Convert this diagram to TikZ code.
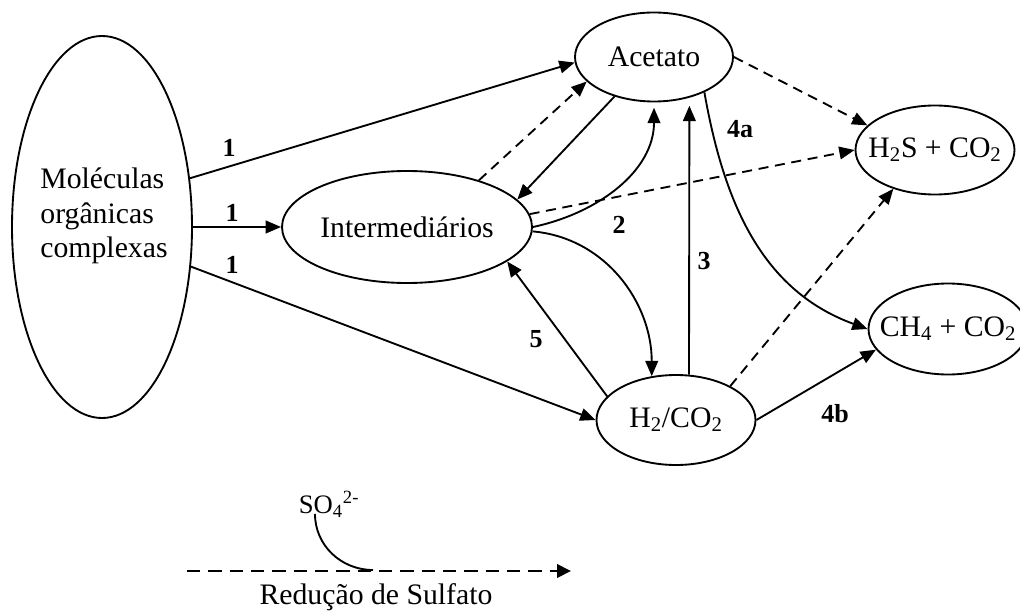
\documentclass[tikz,border=0pt]{standalone}
\usepackage{fontspec}
\setmainfont{Liberation Serif}
\usetikzlibrary{shapes.geometric,arrows.meta}
\begin{document}
\begin{tikzpicture}[x=0.75pt,y=-0.75pt,
  font=\fontsize{22.3}{26}\selectfont,
  ell/.style={draw,ellipse,line width=1.4pt,inner sep=0pt},
  conn/.style={line width=1.4pt,-{Triangle[length=11.5pt,width=9.5pt]}},
  dconn/.style={conn,dash pattern=on 7.5pt off 5pt},
  legline/.style={line width=2.1pt,dash pattern=on 10pt off 6pt,-{Triangle[length=10.5pt,width=10pt]}},
  curvel/.style={line width=1.4pt},
  num/.style={font=\fontsize{19.5}{21}\selectfont\bfseries},
]
\useasboundingbox (0,0) rectangle (1020,613);
\clip (0,0) rectangle (1020,613);

% nodes
\node[ell,minimum width=135pt,minimum height=286.5pt] (M) at (102,227) {};
\node[align=left] (Mtxt) at (104,216) {Moléculas\\orgânicas\\complexas};
\node[ell,minimum width=118.5pt,minimum height=66.75pt,label={center:Acetato}] (A) at (654,57) {};
\node[ell,minimum width=187.5pt,minimum height=84pt,label={center:Intermediários}] (I) at (407,227) {};
\node[ell,minimum width=119.25pt,minimum height=67.5pt,label={center:H\textsubscript{2}/CO\textsubscript{2}}] (H) at (676,420) {};
\node[ell,minimum width=119.25pt,minimum height=66.75pt,label={center:H\textsubscript{2}S + CO\textsubscript{2}}] (S) at (935,150) {};
\node[ell,minimum width=119.25pt,minimum height=68.25pt,label={center:CH\textsubscript{4} + CO\textsubscript{2}}] (C) at (948,329) {};

% connectors
\draw[conn] (M.29.4) -- (A.184);
\draw[conn] (M.east) -- (I.west);
\draw[conn] (M.-24) -- (H.west);
\draw[dconn] (I.33.5) -- (A.200);
\draw[conn] (A.225) -- (I.14);
\draw[conn,shorten >=4pt] (I.0) to[out=12,in=-90] (A.south);
\draw[conn] (I.-2) to[out=-5,in=90] (H.119);
\draw[conn] (H.161.8) -- (I.-19);
\draw[conn,shorten >=6pt] (H.74.9) -- (A.-49.8);
\draw[conn] (A.-35) to[out=-80,in=160] (C.west);
\draw[dconn] (A.east) -- (S.160);
\draw[dconn] (I.6) -- (S.west);
\draw[dconn] (H.32) -- (S.223);
\draw[conn] (H.east) -- (C.196.7);

% numbers
\node[num] (n1a) at (229,148) {1};
\node[num] (n1b) at (232,213) {1};
\node[num] (n1c) at (232,265) {1};
\node[num] (n2) at (619,225) {2};
\node[num] (n3) at (704,261) {3};
\node[num] (n4a) at (740,129) {4a};
\node[num] (n5) at (536,339) {5};
\node[num] (n4b) at (835,414) {4b};

% legend
\coordinate (L1) at (187,571);
\coordinate (L2) at (571,571);
\draw[legline] (L1) -- (L2);
\node (so4) at (329,504) {\fontsize{20}{22}\selectfont SO\textsubscript{4}\textsuperscript{2-}};
\coordinate (cs) at (315,514);
\coordinate (ce) at (373,570);
\draw[curvel] (cs) to[out=-90,in=180] (ce);
\node (red) at (376,597) {Redução de Sulfato};
\end{tikzpicture}
\end{document}
